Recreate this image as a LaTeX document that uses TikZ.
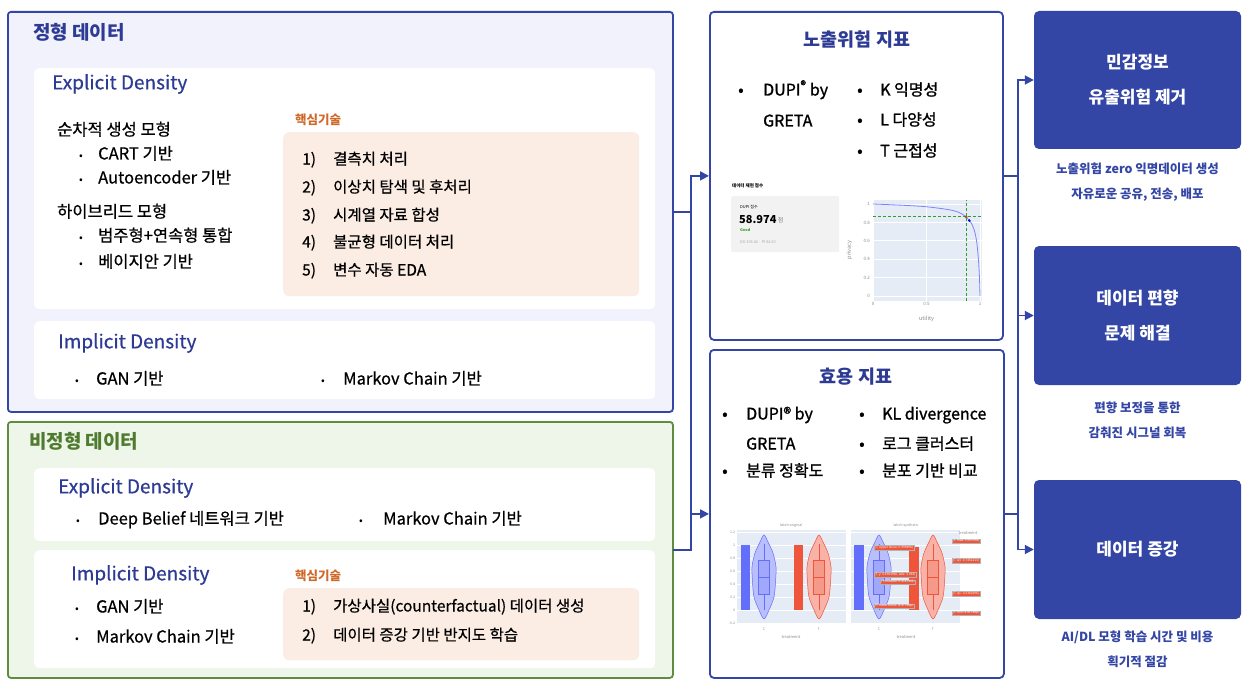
\documentclass[tikz,border=0pt]{standalone}
\usepackage{fontspec}
\setmainfont{Noto Sans CJK KR}
\newfontfamily\medfont[FakeBold=0.6]{Noto Sans CJK KR}
\newfontfamily\semifont[FakeBold=1.2]{Noto Sans CJK KR}
\usetikzlibrary{arrows.meta, positioning, calc}
\definecolor{navy}{HTML}{3346A6}
\definecolor{inkblue}{HTML}{2E3B94}
\definecolor{lavender}{HTML}{F1F2FB}
\definecolor{leaf}{HTML}{5E8D3F}
\definecolor{leafdark}{HTML}{4E7B30}
\definecolor{mint}{HTML}{EEF5E9}
\definecolor{peach}{HTML}{FCEDE4}
\definecolor{rust}{HTML}{CF6A2B}
\definecolor{plotbg}{HTML}{E5ECF6}
\definecolor{vblue}{HTML}{636EFA}
\definecolor{vred}{HTML}{EF553B}
\definecolor{dashgreen}{HTML}{2CA02C}
\definecolor{tickgrey}{HTML}{8A8A8A}
\tikzset{
  every picture/.style={font=\fontsize{15.5}{18}\selectfont},
  group/.style={draw=#1, line width=1.8pt, rounded corners=3pt, anchor=north west, inner sep=0pt},
  card/.style={fill=white, rounded corners=5pt, anchor=north west, inner sep=0pt},
  keybox/.style={fill=peach, rounded corners=6pt, anchor=north west, inner sep=0pt},
  metric/.style={draw=navy, fill=white, line width=1.8pt, rounded corners=4pt, anchor=north west, inner sep=0pt},
  goal/.style={fill=navy, rounded corners=5pt, text=white, align=center, font=\fontsize{17}{35}\selectfont\bfseries},
  note/.style={text=navy, align=center, font=\fontsize{12.5}{25}\selectfont\bfseries},
  link/.style={draw=navy, line width=1.8pt, line cap=rect},
  arrow/.style={link, -{Triangle[length=9pt, width=9pt]}},
  grouptitle/.style={anchor=west, inner sep=0pt, text=#1, font=\fontsize{19}{22}\selectfont\bfseries},
  subtitle/.style={anchor=west, inner sep=0pt, text=inkblue, font=\medfont\fontsize{19}{22}\selectfont},
  mtitle/.style={text=inkblue, font=\fontsize{18.5}{21}\selectfont\bfseries},
  keylabel/.style={anchor=west, inner sep=0pt, text=rust, font=\fontsize{12.5}{15}\selectfont\bfseries},
  item/.style={anchor=west, inner sep=0pt, text height=0.95em, text depth=0.05em, font=\medfont\fontsize{15.5}{18}\selectfont},
  litem/.style={item, font=\medfont\fontsize{16.5}{19}\selectfont},
  dot/.style={item, font=\fontsize{11}{14}\selectfont},
  mitem/.style={item, font=\semifont\fontsize{16}{19}\selectfont},
  tick/.style={text=tickgrey, inner sep=0.8pt, font=\fontsize{4.5}{5}\selectfont},
  hover/.style={fill=vred, draw=gray!60, line width=0.3pt, text=white, inner sep=0.7pt, font=\fontsize{3.2}{4}\selectfont},
  pics/violin/.style={code={
    \draw[#1, fill=#1!45, line width=0.5pt] plot[smooth cycle] coordinates {(0,-42) (4,-35) (9,-24) (12,-10) (11.5,5) (10,20) (5,33) (0,42) (-5,33) (-10,20) (-11.5,5) (-12,-10) (-9,-24) (-4,-35)};
    \draw[#1, fill=#1!60, line width=0.4pt] (-5.5,-17) rectangle (5.5,17);
    \draw[#1, line width=0.4pt] (0,-33) -- (0,-17) (0,17) -- (0,33) (-5.5,0) -- (5.5,0);
  }},
}
\begin{document}
\begin{tikzpicture}[x=1pt, y=-1pt]
  \useasboundingbox[fill=white] (0,0) rectangle (1259,690);
  % structured data
  \node[group=navy, fill=lavender, minimum width=665, minimum height=400] (struct) at (7,11) {};
  \node[grouptitle=inkblue] (structtitle) at (33,32) {정형 데이터};
  \node[card, minimum width=621, minimum height=241] (exp1) at (34,68) {};
  \node[subtitle] (exp1title) at (52,84) {Explicit Density};
  \node[litem] (seq) at (57,131) {순차적 생성 모형};
  \node[litem] (hyb) at (57,213) {하이브리드 모형};
  \foreach \txt/\y/\i in {CART 기반/155/1, Autoencoder 기반/179/2, 범주형+연속형 통합/237/3, 베이지안 기반/263/4} {
    \node[dot] (sd\i) at (79,\y) {•};
    \node[litem] (st\i) at (98,\y) {\txt};
  }
  \node[keylabel] (key1) at (295,120) {핵심기술};
  \node[keybox, minimum width=356, minimum height=164] (tech1) at (283,132) {};
  \foreach \txt/\y/\i in {결측치 처리/160/1, 이상치 탐색 및 후처리/188/2, 시계열 자료 합성/216/3, 불균형 데이터 처리/243/4, 변수 자동 EDA/271/5} {
    \node[item] (kn\i) at (302,\y) {\i)};
    \node[item] (kt\i) at (333,\y) {\txt};
  }
  \node[card, minimum width=621, minimum height=78] (imp1) at (34,321) {};
  \node[subtitle] (imp1title) at (58,343) {Implicit Density};
  \foreach \txt/\xd/\xt/\i in {GAN 기반/75/96/1, Markov Chain 기반/321/343/2} {
    \node[dot] (id\i) at (\xd,380) {•};
    \node[litem] (it\i) at (\xt,380) {\txt};
  }
  % unstructured data
  \node[group=leaf, fill=mint, minimum width=665, minimum height=256] (unstruct) at (7,421) {};
  \node[grouptitle=leafdark] (unstructtitle) at (29,441) {비정형 데이터};
  \node[card, minimum width=621, minimum height=73] (exp2) at (34,468) {};
  \node[subtitle] (exp2title) at (58,488) {Explicit Density};
  \foreach \txt/\xd/\xt/\i in {Deep Belief 네트워크 기반/76/98/1, Markov Chain 기반/359/383/2} {
    \node[dot] (ed\i) at (\xd,520) {•};
    \node[litem] (et\i) at (\xt,520) {\txt};
  }
  \node[card, minimum width=621, minimum height=118] (imp2) at (34,550) {};
  \node[subtitle] (imp2title) at (71,575) {Implicit Density};
  \foreach \txt/\y/\i in {GAN 기반/608/1, Markov Chain 기반/638/2} {
    \node[dot] (ud\i) at (75,\y) {•};
    \node[litem] (ut\i) at (96,\y) {\txt};
  }
  \node[keylabel] (key2) at (295,576) {핵심기술};
  \node[keybox, minimum width=356, minimum height=72] (tech2) at (283,588) {};
  \foreach \txt/\y/\i in {가상사실(counterfactual) 데이터 생성/607/1, 데이터 증강 기반 반지도 학습/636/2} {
    \node[item] (un\i) at (302,\y) {\i)};
    \node[item] (ut\i) at (333,\y) {\txt};
  }
  % exposure risk metrics
  \node[metric, minimum width=293, minimum height=328] (risk) at (709,11) {};
  \node[mtitle] (risktitle) at (857,40) {노출위험 지표};
  \node[mitem] (rd1) at (738,91) {•};
  \node[mitem] (rt1) at (763,91) {DUPI\textsuperscript{®} by};
  \node[mitem] (rt2) at (763,122) {GRETA};
  \foreach \txt/\y/\i in {K 익명성/91/3, L 다양성/121/4, T 근접성/152/5} {
    \node[mitem] (rd\i) at (857,\y) {•};
    \node[mitem] (rt\i) at (880,\y) {\txt};
  }
  % screenshot: score card and trade-off curve
  \node[anchor=west, inner sep=0pt, font=\fontsize{4.5}{5}\selectfont\bfseries] (scoretitle) at (732,186) {데이터 재현 점수};
  \node[anchor=north west, fill=black!5, rounded corners=2pt, minimum width=108, minimum height=56] (scorecard) at (731,196) {};
  \node[anchor=west, inner sep=0pt, font=\fontsize{4}{5}\selectfont] (scorename) at (740,207) {DUPI 점수};
  \node[anchor=west, inner sep=0pt, font=\fontsize{11}{12}\selectfont\bfseries] (scoreval) at (739,220) {58.974};
  \node[right=1pt of scoreval, inner sep=0pt, text=gray, font=\fontsize{6}{7}\selectfont] (scoreunit) {점};
  \node[anchor=west, inner sep=0pt, text=dashgreen, font=\fontsize{3.8}{5}\selectfont\bfseries] (scoregood) at (740,230) {Good};
  \node[anchor=west, inner sep=0pt, text=gray!70, font=\fontsize{3.8}{5}\selectfont] (scoreparts) at (740,242) {DU 106.42 · PI 94.00};
  \fill[plotbg] (873,200) rectangle (982,301);
  \begin{scope}[shift={(873,296)}, x=107pt, y=92pt]
    \foreach \v in {0, 0.2, 0.4, 0.6, 0.8, 1} {
      \draw[white, line width=0.6pt] (0,\v) -- (1.02,\v);
      \node[tick, anchor=east] (py\v) at (-0.02,\v) {\v};
    }
    \foreach \u in {0, 0.5, 1} {
      \draw[white, line width=0.6pt] (\u,-0.05) -- (\u,1.04);
      \node[tick, anchor=north] (px\u) at (\u,-0.06) {\u};
    }
    \draw[vblue!85, line width=0.8pt] plot[smooth] coordinates {(0,1) (0.3,0.985) (0.5,0.97) (0.7,0.94) (0.8,0.91) (0.87,0.86) (0.92,0.79) (0.95,0.7) (0.97,0.58) (0.985,0.4) (0.995,0.2) (1,0)};
    \draw[dashgreen, line width=1pt, dash pattern=on 3pt off 2pt] (0.87,-0.05) -- (0.87,1.04) (0,0.86) -- (1.02,0.86);
    \fill[vred!80!black] (0.87,0.86) circle (1.6pt);
    \fill[blue] (0.9,0.82) circle (1.4pt);
    \node[tick, rotate=90, font=\fontsize{5.5}{6}\selectfont] (privacy) at (-0.22,0.5) {privacy};
    \node[tick, font=\fontsize{5.5}{6}\selectfont] (utility) at (0.5,-0.25) {utility};
  \end{scope}
  % utility metrics
  \node[metric, minimum width=294, minimum height=328] (util) at (709,349) {};
  \node[mtitle] (utiltitle) at (856,377) {효용 지표};
  \node[mitem] (ud1) at (722,415) {•};
  \node[mitem] (ut1) at (746,415) {DUPI® by};
  \node[mitem] (ut2) at (746,445) {GRETA};
  \node[mitem] (ud3) at (722,472) {•};
  \node[mitem] (ut3) at (746,472) {분류 정확도};
  \foreach \txt/\y/\i in {KL divergence/415/4, 로그 클러스터/445/5, 분포 기반 비교/472/6} {
    \node[mitem] (ud\i) at (859,\y) {•};
    \node[mitem] (ut\i) at (882,\y) {\txt};
  }
  % screenshot: violin plots
  \fill[plotbg] (737,530) rectangle (846,624);
  \fill[plotbg] (851,530) rectangle (960,624);
  \foreach \v/\k in {1.2/0, 1/1, 0.8/2, 0.6/3, 0.4/4, 0.2/5, 0/6, -0.2/7} {
    \draw[white, line width=0.5pt] (737,{532+13*\k}) -- (846,{532+13*\k}) (851,{532+13*\k}) -- (960,{532+13*\k});
    \node[tick, anchor=east, font=\fontsize{3.5}{4}\selectfont] (vy\k) at (736,{532+13*\k}) {\v};
  }
  \node[tick, font=\fontsize{3.5}{4}\selectfont] (vt1) at (791,526) {label=original};
  \node[tick, font=\fontsize{3.5}{4}\selectfont] (vt2) at (906,526) {label=synthetic};
  \foreach \lab/\xx/\i in {C/764/1, T/819/2, C/879/3, T/933/4} {
    \node[tick, font=\fontsize{3.5}{4}\selectfont] (vx\i) at (\xx,629) {\lab};
  }
  \node[tick, font=\fontsize{4}{5}\selectfont] (vl1) at (791,637) {treatment};
  \node[tick, font=\fontsize{4}{5}\selectfont] (vl2) at (906,637) {treatment};
  \node[tick, font=\fontsize{4}{5}\selectfont] (vlegend) at (968,533) {treatment};
  \fill[vblue] (741,545) rectangle (750,610);
  \fill[vred] (794,545) rectangle (803,610);
  \fill[vblue] (854,545) rectangle (864,610);
  \fill[vred] (909,547) rectangle (919,610);
  \pic at (764,577) {violin=vblue};
  \pic at (819,577) {violin=vred};
  \pic at (879,577) {violin=vblue};
  \pic at (933,577) {violin=vred};
  \foreach \txt/\xx/\y/\i in {{(T, upper fence: 0.999496)}/894/548/1, {(T, y: 0.4903985, kde: 3.043)}/895/575/2, {(T, median: 0.4167461)}/898/582/3, {(T, lower fence: 878.748μ)}/894/606/4, {(T, max: 0.999496)}/966/541/5, {(T, q3: 0.7452113)}/966/561/6, {(T, q1: 0.2360196)}/966/594/7, {(T, min: 878.748μ)}/966/613/8} {
    \node[hover] (hv\i) at (\xx,\y) {\txt};
  }
  % outcomes
  \node[goal, minimum width=207, minimum height=138] (goal1) at (1137.5,80) {민감정보\\유출위험 제거};
  \node[goal, minimum width=207, minimum height=139] (goal2) at (1137.5,315.5) {데이터 편향\\문제 해결};
  \node[goal, minimum width=207, minimum height=139] (goal3) at (1137.5,549.5) {데이터 증강};
  \node[note] (note1) at (1137.5,182.5) {노출위험 zero 익명데이터 생성\\자유로운 공유, 전송, 배포};
  \node[note] (note2) at (1137.5,420.5) {편향 보정을 통한\\감춰진 시그널 회복};
  \node[note] (note3) at (1137.5,649.5) {AI/DL 모형 학습 시간 및 비용\\획기적 절감};
  % connectors
  \coordinate (lbus) at (691,0);
  \coordinate (rbus) at (1018,0);
  \draw[link] (struct.east) -- (struct.east -| lbus);
  \draw[link] (unstruct.east) -- (unstruct.east -| lbus);
  \draw[link] (risk.west -| lbus) -- (unstruct.east -| lbus);
  \draw[arrow] (risk.west -| lbus) -- (risk.west);
  \draw[arrow] (util.west -| lbus) -- (util.west);
  \draw[link] (risk.east) -- (risk.east -| rbus);
  \draw[link] (util.east) -- (util.east -| rbus);
  \draw[link] (goal1.west -| rbus) -- (goal3.west -| rbus);
  \foreach \g in {goal1, goal2, goal3} {
    \draw[arrow] (\g.west -| rbus) -- (\g.west);
  }
\end{tikzpicture}
\end{document}
